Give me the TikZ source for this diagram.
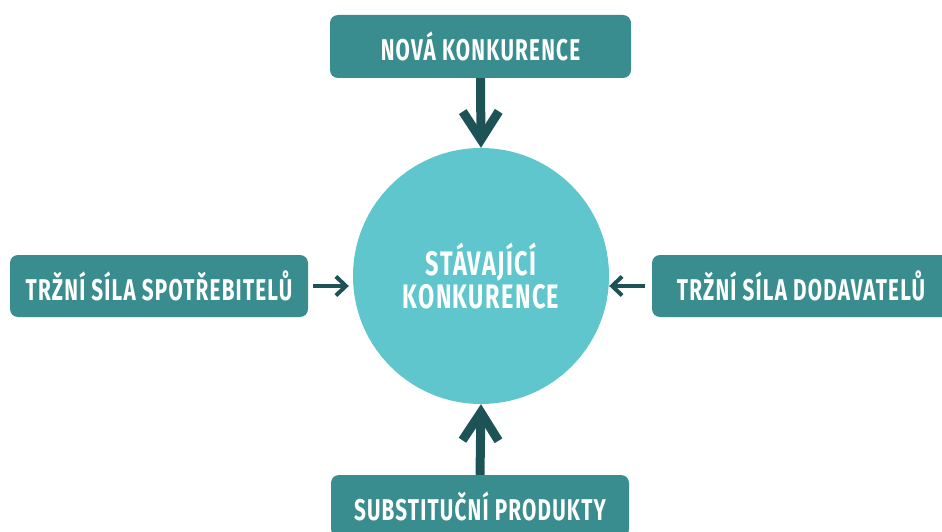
\documentclass[tikz,border=0pt]{standalone}
\usepackage{fontspec}
\newfontfamily\condfont[FakeStretch=0.69, LetterSpace=4]{Fira Sans}
\usetikzlibrary{arrows.meta}
\definecolor{boxteal}{HTML}{3A8D8E}
\definecolor{circteal}{HTML}{5EC6CC}
\definecolor{arrowdark}{HTML}{1D5356}
\begin{document}
\begin{tikzpicture}[x=1pt,y=-1pt,
  forcebox/.style={fill=boxteal, rounded corners=8pt, text=white,
    font=\condfont\bfseries\fontsize{30}{30}\selectfont, inner sep=0pt,
    minimum height=62pt, minimum width=300pt},
  corecircle/.style={circle, fill=circteal, minimum size=256pt, inner sep=0pt,
    align=center, text=white, font=\condfont\bfseries\fontsize{34}{33}\selectfont},
  thickarrow/.style={draw=arrowdark, line width=9pt,
    -{Straight Barb[length=28pt, width=36pt]}},
  thinarrow/.style={draw=arrowdark, line width=4pt,
    -{Straight Barb[length=10pt, width=19pt]}}]
\useasboundingbox (0,0) rectangle (942,532);
\clip (0,0) rectangle (942,532);
\node[corecircle] (core) at (481,276) {STÁVAJÍCÍ\\KONKURENCE};
\node[forcebox, minimum width=301pt, minimum height=63pt] (new) at (480.5,46.5) {NOVÁ KONKURENCE};
\node[forcebox, minimum width=298pt] (cons) at (159,286) {TRŽNÍ SÍLA SPOTŘEBITELŮ};
\node[forcebox, minimum width=298pt] (supp) at (801,286) {TRŽNÍ SÍLA DODAVATELŮ};
\node[forcebox, minimum width=298pt] (subs) at (480,506) {SUBSTITUČNÍ PRODUKTY};
\draw[thickarrow] (new.south) -- (core.north);
\draw[thickarrow] (subs.north) -- (core.south);
\draw[thinarrow, shorten <=5pt, shorten >=4pt] (cons.east) -- (core.west |- cons.east);
\draw[thinarrow, shorten <=7pt] (supp.west) -- (core.east |- supp.west);
\end{tikzpicture}
\end{document}
